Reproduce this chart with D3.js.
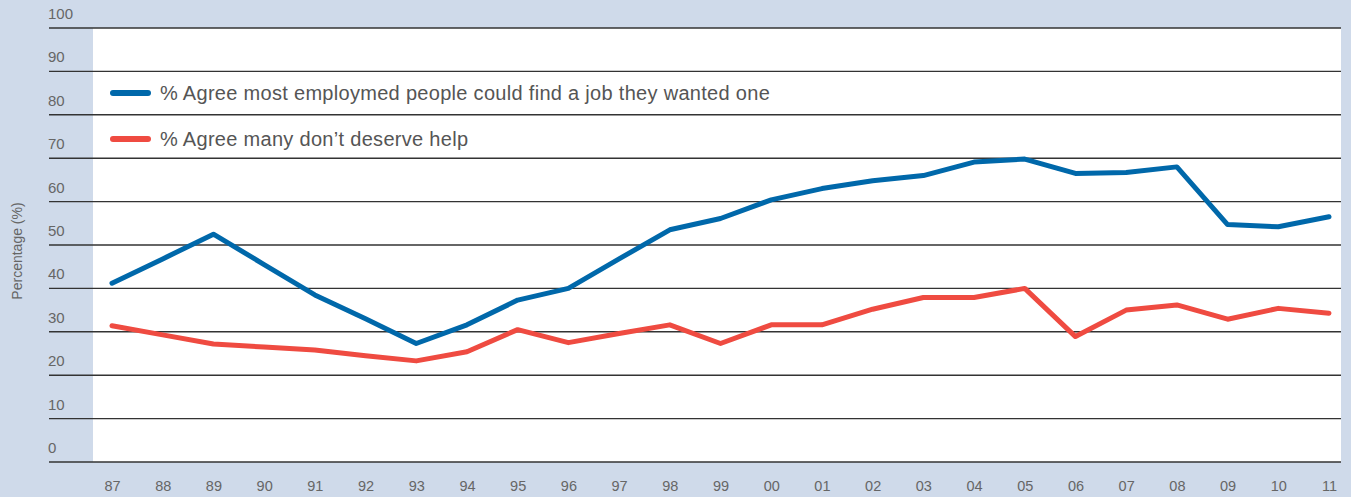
<!DOCTYPE html>
<html>
<head>
<meta charset="utf-8">
<script src="https://cdn.jsdelivr.net/npm/d3@7"></script>
<style>
  body { margin: 0; background: #cfdaea; }
  svg { display: block; font-family: "Liberation Sans", Arial, sans-serif; }
</style>
</head>
<body>
<div id="chart"></div>
<script>
const years = ["87","88","89","90","91","92","93","94","95","96","97","98","99",
               "00","01","02","03","04","05","06","07","08","09","10","11"];
const agreeJob = [41.2, 46.8, 52.5, 45.5, 38.5, 33, 27.3, 31.6, 37.3, 40, 46.8, 53.5, 56.1,
                  60.4, 63, 64.8, 66, 69.1, 69.8, 66.5, 66.7, 68, 54.7, 54.2, 56.5];
const dontDeserve = [31.4, 29.3, 27.2, 26.5, 25.8, 24.5, 23.3, 25.4, 30.5, 27.5, 29.6, 31.6, 27.3,
                     31.6, 31.6, 35.2, 37.9, 37.9, 40, 28.9, 35, 36.2, 32.9, 35.4, 34.3];
const yTicks = [0, 10, 20, 30, 40, 50, 60, 70, 80, 90, 100];
const seriesNames = ["% Agree most employmed people could find a job they wanted one",
                     "% Agree many don\u2019t deserve help"];
const seriesColors = ["#0068aa", "#ef4b41"];

const W = 1351, H = 497;
const plot = { left: 93, right: 1341, top: 28, bottom: 462 };

const svg = d3.select("#chart").append("svg")
    .attr("width", W)
    .attr("height", H);

svg.append("rect")
    .attr("width", W).attr("height", H)
    .attr("fill", "#cfdaea");

svg.append("rect")
    .attr("x", plot.left).attr("y", plot.top)
    .attr("width", plot.right - plot.left)
    .attr("height", plot.bottom - plot.top)
    .attr("fill", "#fff");

const x = d3.scalePoint()
    .domain(years)
    .range([112, 1329]);

const y = d3.scaleLinear()
    .domain([0, 100])
    .range([plot.bottom, plot.top]);

// gridlines + labels
const grid = svg.append("g");
grid.selectAll("line")
    .data(yTicks)
    .enter()
    .append("line")
    .attr("x1", 49).attr("x2", plot.right)
    .attr("y1", d => y(d)).attr("y2", d => y(d))
    .attr("stroke", "#333")
    .attr("stroke-width", 1.4);

grid.selectAll("text")
    .data(yTicks)
    .enter()
    .append("text")
    .attr("x", 48)
    .attr("y", d => y(d) - 9)
    .attr("fill", "#666")
    .style("font-size", "15px")
    .text(d => d);

// x axis labels
const xAxis = svg.append("g")
    .attr("transform", `translate(0,${plot.bottom})`)
    .call(d3.axisBottom(x).tickSize(0).tickPadding(19));
xAxis.select(".domain").remove();
xAxis.selectAll("text")
    .attr("fill", "#666")
    .style("font-size", "14.5px")
    .style("font-family", "Liberation Sans, Arial, sans-serif");

// y title
svg.append("text")
    .attr("transform", "translate(22,251) rotate(-90)")
    .attr("text-anchor", "middle")
    .attr("fill", "#666")
    .style("font-size", "14px")
    .text("Percentage (%)");

// lines
const line = d3.line()
    .x((d, i) => x(years[i]))
    .y(d => y(d));

[agreeJob, dontDeserve].forEach((vals, i) => {
    svg.append("path")
        .datum(vals)
        .attr("d", line)
        .attr("fill", "none")
        .attr("stroke", seriesColors[i])
        .attr("stroke-width", 5)
        .attr("stroke-linecap", "round")
        .attr("stroke-linejoin", "round");
});

// legend
const legend = svg.append("g");
seriesNames.forEach((name, i) => {
    const ly = 93 + i * 46;
    legend.append("line")
        .attr("x1", 113).attr("x2", 148)
        .attr("y1", ly).attr("y2", ly)
        .attr("stroke", seriesColors[i])
        .attr("stroke-width", 6)
        .attr("stroke-linecap", "round");
    legend.append("text")
        .attr("x", 160)
        .attr("y", ly + 7)
        .attr("fill", "#555")
        .style("font-size", "20px")
        .style("letter-spacing", "0.3px")
        .text(name);
});
</script>
</body>
</html>
